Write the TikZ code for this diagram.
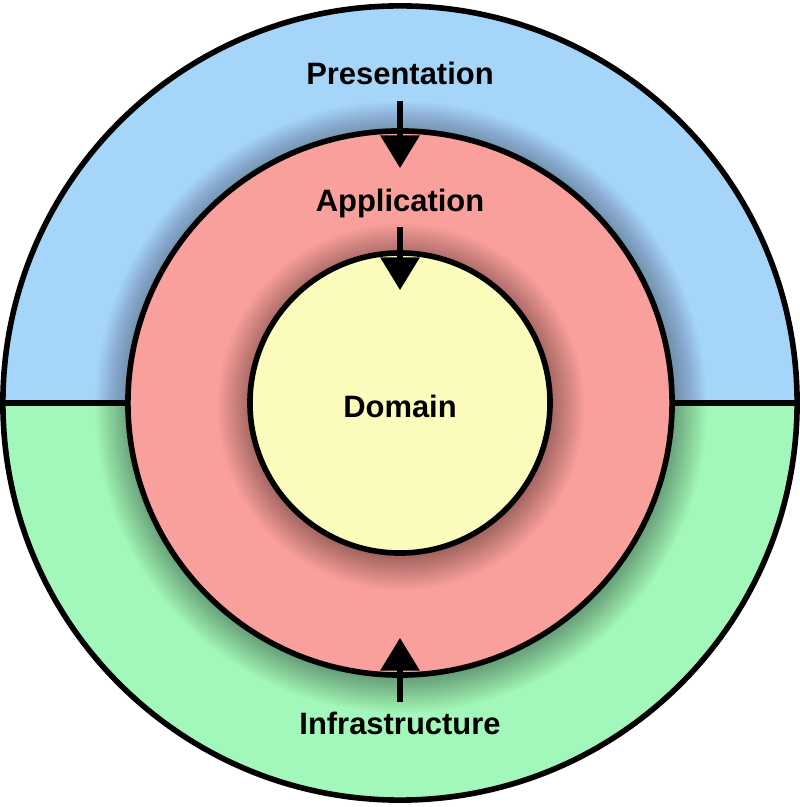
\documentclass[tikz,border=0pt]{standalone}
\usepackage{fontspec}
\setmainfont{Liberation Sans}
\usetikzlibrary{arrows.meta}
\definecolor{prescol}{RGB}{166,213,250}
\definecolor{infracol}{RGB}{162,247,186}
\definecolor{appcol}{RGB}{250,160,156}
\definecolor{domcol}{RGB}{251,251,188}
\tikzset{
  ring/.style={circle, draw=black, line width=0.14cm, inner sep=0pt},
  layer/.style={font=\fontsize{22}{26}\selectfont\bfseries, inner sep=0pt, text height=16pt, text depth=0pt, anchor=south},
  dep/.style={-{Triangle[length=0.82cm, width=0.95cm]}, line width=0.16cm, shorten <=0.4cm, shorten >=-1cm}
}
\begin{document}
\begin{tikzpicture}[x=0.025cm, y=0.025cm]
  \useasboundingbox (0,0) rectangle (800,807);
  % Outer ring split into two halves
  \fill[prescol] (3,404) arc[start angle=180, end angle=0, radius=397] -- cycle;
  \fill[infracol] (3,404) arc[start angle=180, end angle=360, radius=397] -- cycle;
  \draw[line width=0.15cm] (3,404) -- (797,404);
  \node[ring, minimum size=19.85cm] (outer) at (400,404) {};
  % Soft shadow round the middle ring, a bit lower
  \foreach \i in {1,...,30}
    \fill[black, opacity=0.01] (401,400) circle ({270+1.2*\i});
  \node[ring, fill=appcol, minimum size=13.6cm] (mid) at (400,404) {};
  % Soft shadow round the core
  \foreach \i in {1,...,30}
    \fill[black, opacity=0.01] (401,400) circle ({148+1.2*\i});
  \node[ring, fill=domcol, minimum size=7.5cm] (core) at (400,404) {};
  % Layer names
  \node[layer] (pres) at (400,722) {Presentation};
  \node[layer] (app) at (400,595) {Application};
  \node[layer] (dom) at (400,389) {Domain};
  \node[layer] (infra) at (400,72) {Infrastructure};
  % Dependencies point inwards
  \draw[dep] (pres.south) -- (mid.north);
  \draw[dep, shorten <=0.375cm] (app.south) -- (core.north);
  \draw[dep, shorten <=0.25cm] (infra.north) -- (mid.south);
\end{tikzpicture}
\end{document}
